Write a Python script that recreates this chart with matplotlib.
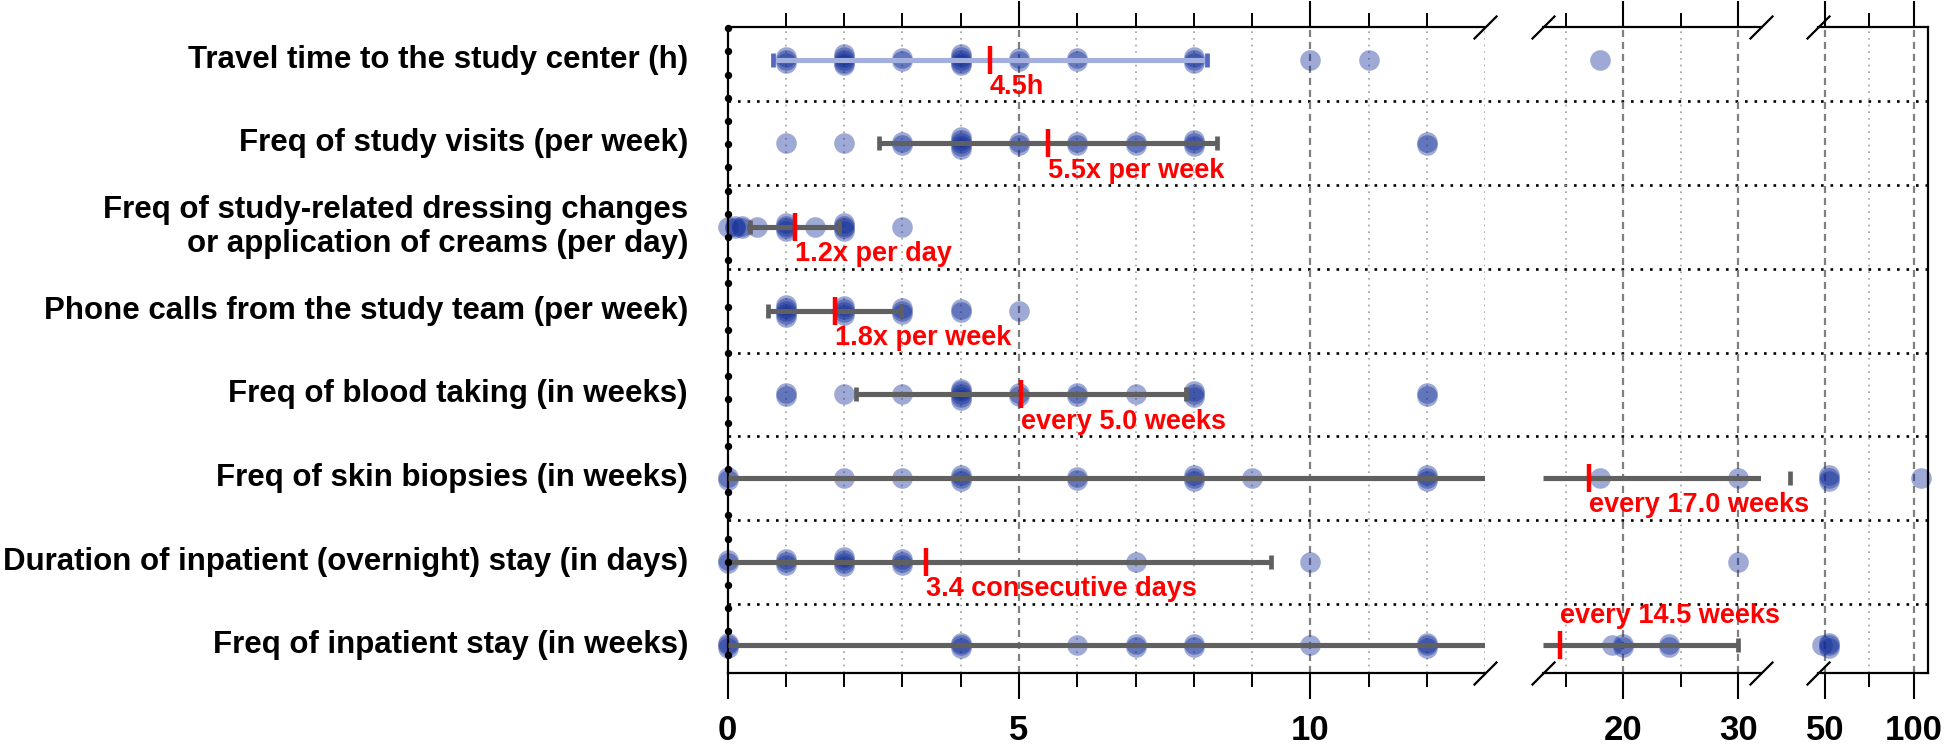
import numpy as np
import matplotlib
matplotlib.use("Agg")
import matplotlib.pyplot as plt
import matplotlib.transforms as mtransforms

plt.rcParams["font.family"] = ["Liberation Sans", "DejaVu Sans"]

# ---------------- data ----------------
row_labels = [
    "Travel time to the study center (h)",
    "Freq of study visits (per week)",
    "Freq of study-related dressing changes\nor application of creams (per day)",
    "Phone calls from the study team (per week)",
    "Freq of blood taking (in weeks)",
    "Freq of skin biopsies (in weeks)",
    "Duration of inpatient (overnight) stay (in days)",
    "Freq of inpatient stay (in weeks)",
]

travel_values = [1, 2, 3, 4, 5, 6, 8, 10, 11, 18]
travel_counts = [3, 5, 2, 5, 2, 2, 3, 1, 1, 1]
visits_values = [1, 2, 3, 4, 5, 6, 7, 8, 12]
visits_counts = [1, 1, 2, 5, 2, 2, 2, 3, 2]
dressing_values = [0, 0.12, 0.25, 0.5, 1, 1.5, 2, 3]
dressing_counts = [1, 2, 2, 1, 4, 1, 4, 1]
phone_values = [1, 2, 3, 4, 5]
phone_counts = [5, 4, 3, 2, 1]
blood_values = [1, 2, 3, 4, 5, 6, 7, 8, 12]
blood_counts = [2, 1, 1, 5, 2, 2, 1, 3, 2]
biopsy_values = [0, 2, 3, 4, 6, 8, 9, 12, 18, 30, 52, 104]
biopsy_counts = [2, 1, 1, 3, 2, 3, 1, 3, 1, 1, 3, 1]
duration_values = [0, 1, 2, 3, 7, 10, 30]
duration_counts = [2, 3, 4, 3, 1, 1, 1]
inpatient_values = [0, 4, 6, 7, 8, 10, 12, 19, 20, 24, 48, 52]
inpatient_counts = [3, 3, 1, 2, 2, 1, 3, 1, 2, 2, 1, 3]

row_values = [travel_values, visits_values, dressing_values, phone_values,
              blood_values, biopsy_values, duration_values, inpatient_values]
row_counts = [travel_counts, visits_counts, dressing_counts, phone_counts,
              blood_counts, biopsy_counts, duration_counts, inpatient_counts]

means = [4.5, 5.5, 1.15, 1.84, 5.03, 17.0, 3.4, 14.5]
sds = [3.72, 2.9, 0.76, 1.14, 2.83, 17.5, 5.93, 15.5]
mean_texts = ["4.5h", "5.5x per week", "1.2x per day", "1.8x per week",
              "every 5.0 weeks", "every 17.0 weeks", "3.4 consecutive days",
              "every 14.5 weeks"]
text_above = [False, False, False, False, False, False, False, True]

# broken x-axis segments
seg_limits = [(0, 13), (13, 32), (46, 108)]
seg_major = [[0, 5, 10], [20, 30], [50, 100]]
seg_minor = [[1, 2, 3, 4, 6, 7, 8, 9, 11, 12], [15, 25], [75]]
seg_dotted = [[1, 2, 3, 4, 6, 7, 8, 9, 11, 12, 13], [15, 25], [75]]

# ---------------- layout ----------------
W, H = 1946, 746
fig = plt.figure(figsize=(W / 100, H / 100), dpi=100)
Y0, Y1 = 27.3, 672.7
seg_px = [(727.6, 1485.3), (1543.0, 1761.0), (1818.0, 1928.0)]
ylim = (7.325, -0.386)


def rect(x0, x1):
    return [x0 / W, 1 - Y1 / H, (x1 - x0) / W, (Y1 - Y0) / H]


BLUE = "#0d2a96"
GRAY = "#606060"
BAR_COLORS = ["#a3afdf", GRAY, GRAY, GRAY, GRAY, GRAY, GRAY, GRAY]
CAP_COLORS = ["#5568c0", GRAY, GRAY, GRAY, GRAY, GRAY, GRAY, GRAY]
LABEL_SIZE = 22.5
RED_SIZE = 19.5

# background axes for row separators
axbg = fig.add_axes(rect(seg_px[0][0], seg_px[2][1]))
axbg.set_xlim(0, 1)
axbg.set_ylim(*ylim)
axbg.axis("off")
for k in range(len(row_labels) - 1):
    axbg.axhline(k + 0.5, color="black", lw=1.9, ls=(0, (1, 2.6)), zorder=1)

axes = []
for s, (lo, hi) in enumerate(seg_limits):
    ax = fig.add_axes(rect(*seg_px[s]))
    ax.patch.set_alpha(0)
    ax.set_xlim(lo, hi)
    ax.set_ylim(*ylim)
    ax.set_yticks([])
    ax.set_xticks(seg_major[s])
    ax.set_xticks(seg_minor[s], minor=True)
    ax.set_xticklabels([str(v) for v in seg_major[s]], fontsize=25,
                       fontweight="bold", family="Liberation Sans")
    ax.tick_params(which="major", direction="out", top=True, bottom=True,
                   labeltop=False, length=18.7, width=1.5, pad=11, color="black")
    ax.tick_params(which="minor", direction="out", top=True, bottom=True,
                   length=10, width=1.4, color="black")
    for side in ["top", "bottom", "left", "right"]:
        ax.spines[side].set_linewidth(1.6)
    ax.spines["left"].set_visible(s == 0)
    ax.spines["right"].set_visible(s == len(seg_limits) - 1)
    for v in seg_dotted[s]:
        ax.axvline(v, color="#a0a0a0", lw=1.2, ls=(0, (1, 3)), zorder=0.5)
    for v in seg_major[s]:
        if v != 0:
            ax.axvline(v, color="#808080", lw=1.6, ls=(0, (3.2, 2.2)), zorder=0.5)
    # break marks
    kw = dict(transform=ax.transAxes, marker=[(-1, -1), (1, 1)], markersize=17,
              linestyle="none", color="k", mec="k", mew=1.6, clip_on=False)
    if s < len(seg_limits) - 1:
        ax.plot([1, 1], [0, 1], **kw)
    if s > 0:
        ax.plot([0, 0], [0, 1], **kw)
    axes.append(ax)

# hide top tick at 0
axes[0].xaxis.get_major_ticks()[0].tick2line.set_visible(False)


def seg_of(v):
    for s, (lo, hi) in enumerate(seg_limits):
        if lo <= v <= hi:
            return s
    for s in range(len(seg_limits) - 1, -1, -1):
        if v > seg_limits[s][1]:
            return s
    return 0


for r in range(len(row_labels)):
    # individual responses
    for v, n in zip(row_values[r], row_counts[r]):
        ax = axes[seg_of(v)]
        offs = (np.arange(n) - (n - 1) / 2) * 0.035
        ax.scatter([v] * n, r + offs, s=220, color=BLUE, alpha=0.4,
                   linewidths=0, zorder=2, clip_on=False)
    # mean +/- sd bar
    lo_v, hi_v = means[r] - sds[r], means[r] + sds[r]
    for s, ax in enumerate(axes):
        a, b = max(lo_v, seg_limits[s][0]), min(hi_v, seg_limits[s][1])
        if a < b:
            ax.plot([a, b], [r, r], color=BAR_COLORS[r], lw=3.7,
                    solid_capstyle="butt", zorder=3)
    for e in (lo_v, hi_v):
        if e >= 0:
            axes[seg_of(e)].plot([e], [r], marker="|", ms=10, mew=3.4,
                                 color=CAP_COLORS[r], clip_on=False, zorder=3)
    # mean marker + text
    axm = axes[seg_of(means[r])]
    axm.plot([means[r]], [r], marker="|", ms=19.5, mew=3.2, color="red",
             zorder=4, clip_on=False)
    if text_above[r]:
        axm.text(means[r], r - 0.2, mean_texts[r], color="red", ha="left",
                 va="bottom", fontsize=RED_SIZE, fontweight="bold",
                 clip_on=False, zorder=5)
    else:
        axm.text(means[r], r + 0.17, mean_texts[r], color="red", ha="left",
                 va="top", fontsize=RED_SIZE, fontweight="bold",
                 clip_on=False, zorder=5)

# row labels
tr = mtransforms.blended_transform_factory(fig.transFigure, axes[0].transData)
for r, lab in enumerate(row_labels):
    axes[0].text(688 / W, r, lab, transform=tr, ha="right", va="center",
                 fontsize=LABEL_SIZE, fontweight="bold",
                 linespacing=1.15, multialignment="right", clip_on=False)

# dots along the left spine
ydots = 1 - (1 + 23.2 * np.arange(28)) / (Y1 - Y0)
axes[0].plot(np.zeros_like(ydots), ydots, "o", ms=4.3, color="black",
             transform=axes[0].transAxes, clip_on=False, zorder=6)

fig.savefig("out.png", dpi=100)
